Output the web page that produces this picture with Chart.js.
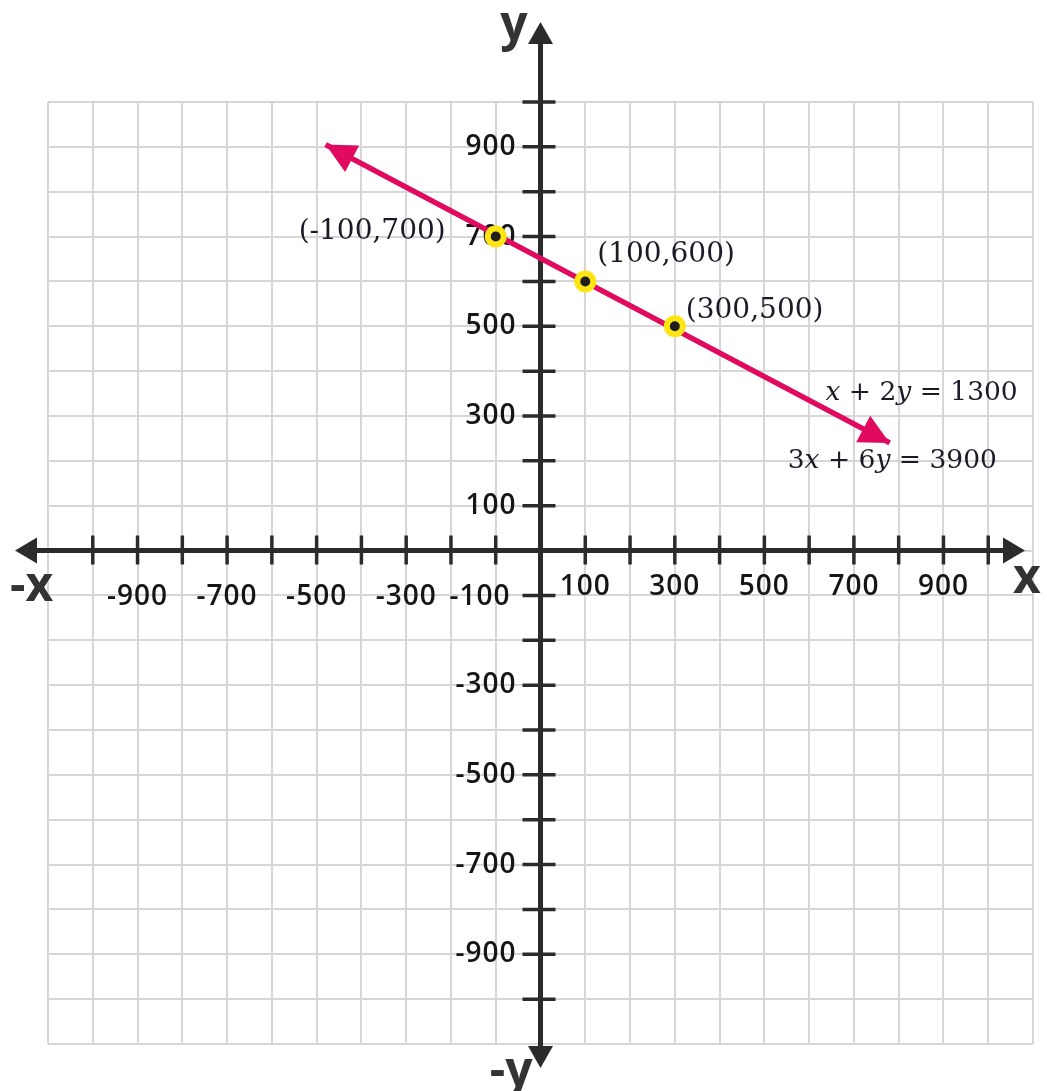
<!DOCTYPE html>
<html><head><meta charset="utf-8">
<script src="https://cdn.jsdelivr.net/npm/chart.js@4/dist/chart.umd.min.js"></script>
<style>html,body{margin:0;padding:0;background:#fff;overflow:hidden}canvas{display:block}</style>
</head><body>
<canvas id="c" width="1047" height="1091"></canvas>
<script>
// ---- data ----
const xTickValues = [-900, -700, -500, -300, -100, 100, 300, 500, 700, 900];
const yTickValues = [-900, -700, -500, -300, 100, 300, 500, 700, 900];
const pointX = [-100, 100, 300];
const pointY = [700, 600, 500];
const pointLabels = ['(-100,700)', '(100,600)', '(300,500)'];
const lineX = [-480, 780];
const lineY = [905, 240];
const equationLabels = ['x + 2y = 1300', '3x + 6y = 3900'];
const axisNames = ['x', '-x', 'y', '-y'];

// ---- styles ----
const PINK = '#e00a5e';
const AXIS = '#2b2b2b';
const TEXT = '#151515';
const SERIF = '"DejaVu Serif"';
const labelPlacement = [
  {dx: -50, dy: -5, align: 'right'},
  {dx: 12, dy: -27, align: 'left'},
  {dx: 11, dy: -16, align: 'left'}
];

function arrowHead(ctx, tx, ty, dx, dy, len, half) {
  const bx = tx - dx * len, by = ty - dy * len;
  ctx.beginPath();
  ctx.moveTo(tx, ty);
  ctx.lineTo(bx - dy * half, by + dx * half);
  ctx.lineTo(bx + dy * half, by - dx * half);
  ctx.closePath();
  ctx.fill();
}

function drawMath(ctx, text, x, y, align, size) {
  const segs = [];
  for (const ch of text) {
    const it = (ch === 'x' || ch === 'y');
    if (segs.length && segs[segs.length - 1].it === it) segs[segs.length - 1].t += ch;
    else segs.push({t: ch, it});
  }
  const fN = `${size}px ${SERIF}`, fI = `italic ${size}px ${SERIF}`;
  let total = 0;
  segs.forEach(s => { ctx.font = s.it ? fI : fN; s.w = ctx.measureText(s.t).width; total += s.w; });
  let cx = align === 'right' ? x - total : align === 'center' ? x - total / 2 : x;
  ctx.textAlign = 'left';
  segs.forEach(s => { ctx.font = s.it ? fI : fN; ctx.fillText(s.t, cx, y); cx += s.w; });
}

const cartesian = {
  id: 'cartesian',
  beforeDatasetsDraw(chart) {
    const {ctx, chartArea: ca, scales: {x, y}} = chart;
    const ox = x.getPixelForValue(0), oy = y.getPixelForValue(0);
    const xl = ca.left - 33, xr = ca.right - 8, yt = ca.top - 80, yb = ca.bottom + 24;
    ctx.save();
    ctx.strokeStyle = AXIS; ctx.fillStyle = AXIS;
    ctx.lineWidth = 5;
    ctx.beginPath();
    ctx.moveTo(xl + 15, oy); ctx.lineTo(xr - 15, oy);
    ctx.moveTo(ox, yt + 15); ctx.lineTo(ox, yb - 15);
    ctx.stroke();
    arrowHead(ctx, xr, oy, 1, 0, 22, 13);
    arrowHead(ctx, xl, oy, -1, 0, 22, 13);
    arrowHead(ctx, ox, yt, 0, -1, 22, 12.5);
    arrowHead(ctx, ox, yb, 0, 1, 22, 12.5);
    // tick marks from the library's ticks
    ctx.lineWidth = 3.5;
    ctx.beginPath();
    x.ticks.forEach(t => {
      if (t.value === 0 || Math.abs(t.value) > 1000) return;
      const px = x.getPixelForValue(t.value);
      ctx.moveTo(px, oy - 15); ctx.lineTo(px, oy + 14);
    });
    y.ticks.forEach(t => {
      if (t.value === 0 || Math.abs(t.value) > 1000) return;
      const py = y.getPixelForValue(t.value);
      ctx.moveTo(ox - 18, py); ctx.lineTo(ox + 15, py);
    });
    ctx.stroke();
    // tick labels
    ctx.fillStyle = TEXT;
    ctx.font = '600 28px "Open Sans"';
    if ('letterSpacing' in ctx) ctx.letterSpacing = '1px';
    ctx.textBaseline = 'middle';
    ctx.textAlign = 'center';
    xTickValues.forEach(v => {
      const s = String(v);
      const w = ctx.measureText(s).width;
      let cx = x.getPixelForValue(v);
      if (v < 0 && cx + w / 2 > ox - 30) cx = ox - 30 - w / 2;
      const cy = oy + (v < 0 ? 46 : 36);
      ctx.fillText(s, cx, cy);
    });
    ctx.textAlign = 'right';
    yTickValues.forEach(v => {
      ctx.fillText(String(v), ox - 24, y.getPixelForValue(v));
    });
    if ('letterSpacing' in ctx) ctx.letterSpacing = '0px';
    // axis names
    ctx.fillStyle = '#333';
    ctx.font = 'bold 48px "Open Sans"';
    ctx.textBaseline = 'alphabetic';
    ctx.textAlign = 'left';
    ctx.fillText(axisNames[0], xr - 12, oy + 42);
    ctx.fillText(axisNames[1], xl - 5, oy + 50);
    ctx.textAlign = 'right';
    ctx.fillText(axisNames[2], ox - 13, yt + 18);
    ctx.fillText(axisNames[3], ox - 8, yb + 18);
    ctx.restore();
  },
  afterDatasetsDraw(chart) {
    const {ctx} = chart;
    const lineMeta = chart.getDatasetMeta(1);
    const p0 = lineMeta.data[0], p1 = lineMeta.data[lineMeta.data.length - 1];
    let dx = p1.x - p0.x, dy = p1.y - p0.y;
    const L = Math.hypot(dx, dy); dx /= L; dy /= L;
    ctx.save();
    ctx.fillStyle = PINK;
    arrowHead(ctx, p0.x, p0.y, -dx, -dy, 30, 15);
    arrowHead(ctx, p1.x, p1.y, dx, dy, 30, 15);
    // point labels
    const ptMeta = chart.getDatasetMeta(0);
    ctx.fillStyle = '#1b1b28';
    ctx.font = `28px ${SERIF}`;
    ctx.textBaseline = 'middle';
    ptMeta.data.forEach((el, i) => {
      const pl = labelPlacement[i];
      ctx.textAlign = pl.align;
      ctx.fillText(pointLabels[i], el.x + pl.dx, el.y + pl.dy);
    });
    // equation labels near the arrow end
    drawMath(ctx, equationLabels[0], p1.x + 128, p1.y - 50, 'right', 26.5);
    drawMath(ctx, equationLabels[1], p1.x - 102, p1.y + 18, 'left', 26.5);
    ctx.restore();
  }
};

const gridOpts = {color: '#d6d6d6', lineWidth: 2, drawTicks: false};
new Chart(document.getElementById('c'), {
  type: 'scatter',
  data: {
    datasets: [
      {
        label: 'points',
        data: pointX.map((v, i) => ({x: v, y: pointY[i]})),
        pointRadius: 8,
        pointBorderWidth: 6,
        pointBackgroundColor: '#1e1e1e',
        pointBorderColor: '#ffe414',
        order: 0
      },
      {
        label: 'x + 2y = 1300',
        data: lineX.map((v, i) => ({x: v, y: lineY[i]})),
        showLine: true,
        borderColor: PINK,
        borderWidth: 5.5,
        pointRadius: 0,
        order: 1
      }
    ]
  },
  options: {
    responsive: false,
    animation: false,
    events: [],
    layout: {padding: {left: 48, top: 102, right: 8, bottom: 47}},
    plugins: {legend: {display: false}, tooltip: {enabled: false}},
    scales: {
      x: {type: 'linear', min: -1100, max: 1100, ticks: {display: false, stepSize: 100}, grid: gridOpts, border: {display: false}},
      y: {type: 'linear', min: -1100, max: 1000, ticks: {display: false, stepSize: 100}, grid: gridOpts, border: {display: false}}
    }
  },
  plugins: [cartesian]
});
</script>
</body></html>
